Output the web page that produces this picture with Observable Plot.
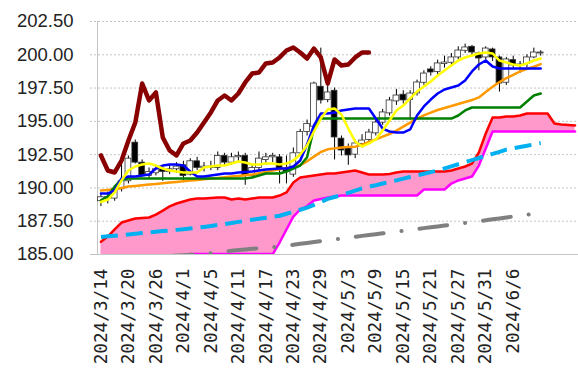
<!DOCTYPE html>
<html><head><meta charset="utf-8">
<script src="https://cdn.jsdelivr.net/npm/d3@7"></script>
<script src="https://cdn.jsdelivr.net/npm/@observablehq/plot@0.6"></script>
<style>body{margin:0;background:#fff}</style>
</head><body><div id="chart"></div>
<script>
// X tick labels (every 4th trading day)
const xTickLabels = ["2024/3/14","2024/3/20","2024/3/26","2024/4/1","2024/4/5","2024/4/11","2024/4/17","2024/4/23","2024/4/29","2024/5/3","2024/5/9","2024/5/15","2024/5/21","2024/5/27","2024/5/31","2024/6/6"];
const yTicks = [185, 187.5, 190, 192.5, 195, 197.5, 200, 202.5];
const nCategories = 70;

// Candles
const open = [189.0,189.3,189.2,189.9,190.5,193.4,191.9,190.9,191.1,191.4,
191.2,191.4,191.7,191.0,192.0,191.5,191.6,191.5,192.4,191.9,
192.3,192.4,190.9,191.5,192.1,192.3,192.3,191.4,191.0,192.6,
194.2,194.6,197.6,196.6,197.3,193.7,193.0,192.5,193.3,193.6,
194.1,194.9,195.6,196.5,197.0,196.6,197.1,197.9,198.9,198.7,
199.3,199.4,199.8,200.3,200.6,200.1,199.8,200.4,199.8,197.9,
199.6,199.2,199.3,199.8,200.1];
const high = [189.6,189.7,190.1,192.0,192.4,193.6,192.1,191.5,191.7,191.6,
191.7,191.9,192.0,192.2,192.3,191.9,192.0,192.7,192.6,192.6,
192.7,192.6,191.7,192.7,192.6,192.6,192.5,192.4,193.0,194.4,
195.1,197.95,200.5,197.8,197.5,193.9,193.3,193.6,194.0,194.4,
195.1,195.9,196.8,197.4,197.3,197.3,198.1,198.8,199.1,199.6,
199.9,200.1,200.6,200.8,200.7,200.2,200.6,200.5,199.9,199.8,
199.9,199.5,200.0,200.5,200.3];
const low = [188.6,188.8,189.0,189.7,190.3,191.8,190.8,190.7,190.9,190.5,
191.0,191.1,190.4,190.9,191.3,191.2,191.3,191.3,191.7,191.7,
191.9,190.2,190.8,191.3,191.7,191.9,190.3,190.3,190.8,192.4,
193.9,194.4,196.3,196.4,192.1,192.4,191.7,192.2,193.0,193.3,
193.9,194.7,195.4,196.2,196.3,195.1,196.9,197.7,198.4,198.5,
199.0,199.2,199.6,200.1,199.9,198.8,199.6,199.5,197.2,197.7,
198.9,198.6,199.0,199.7,199.9];
const close = [189.3,189.2,189.9,190.5,192.2,191.9,190.9,191.2,191.4,191.2,
191.4,191.6,190.9,192.0,191.5,191.6,191.5,192.4,191.9,192.3,
192.4,190.9,191.5,192.2,192.3,192.4,191.4,191.2,192.6,194.2,
194.8,197.84,196.57,197.17,193.79,192.81,192.44,193.34,193.56,194.16,
194.91,195.67,196.57,196.94,196.57,197.09,197.92,198.59,198.67,199.35,
199.42,199.80,200.32,200.55,200.17,199.72,200.47,199.80,197.84,199.65,
199.20,199.27,199.80,200.17,200.17];

// Lines
const tenkan = [188.94,189.13,189.66,190.56,191.31,191.61,191.76,191.83,191.68,191.46,
191.31,191.23,191.16,191.16,191.16,191.53,191.61,191.68,191.68,191.83,
191.98,191.91,191.76,191.76,191.83,191.83,191.76,191.83,192.06,192.51,
193.19,194.24,195.21,195.89,195.97,195.52,194.46,193.49,193.11,193.34,
193.64,194.31,195.06,195.82,196.19,196.72,197.24,197.62,197.99,198.44,
198.82,199.20,199.57,199.80,199.95,200.10,200.17,200.10,199.57,199.42,
199.27,199.20,199.35,199.57,199.72];
const kijun = [189.58,189.58,189.81,190.71,190.86,190.86,190.93,191.01,191.46,191.68,
191.76,191.76,191.68,191.23,190.86,190.86,190.93,191.01,191.08,191.08,
191.16,191.20,191.23,191.31,191.38,191.42,191.46,191.46,191.61,192.06,
193.26,194.69,195.59,195.59,195.67,195.82,195.89,195.97,195.97,195.97,
195.21,194.46,194.24,194.16,194.16,194.39,195.44,196.12,196.64,197.09,
197.39,197.54,197.69,198.07,198.75,199.27,199.57,199.12,198.97,198.97,
198.97,198.97,198.97,198.97,198.97];
const greenLine = [189.06,189.36,190.11,190.63,190.71,190.71,190.71,190.71,190.71,190.71,
190.71,190.71,190.71,190.71,190.71,190.71,190.71,190.71,190.71,190.71,
190.71,190.71,190.78,190.93,191.08,191.08,191.08,191.23,191.46,191.68,
192.30,194.50,195.21,195.21,195.21,195.21,195.21,195.21,195.21,195.21,
195.21,195.21,195.21,195.21,195.21,195.21,195.21,195.21,195.21,195.21,
195.21,195.21,195.44,195.82,196.04,196.04,196.04,196.04,196.04,196.04,
196.04,196.04,196.49,196.94,197.09];
const orangeLine = [189.80,189.85,189.90,190.00,190.10,190.15,190.20,190.25,190.30,190.35,
190.40,190.45,190.50,190.55,190.60,190.65,190.70,190.75,190.80,190.85,
190.90,190.95,191.00,191.10,191.20,191.30,191.40,191.50,191.60,191.70,
192.00,192.35,192.70,192.90,192.97,193.04,193.08,193.10,193.25,193.45,
193.65,193.85,194.05,194.30,194.60,194.90,195.20,195.45,195.65,195.85,
196.00,196.15,196.30,196.45,196.60,196.80,197.20,197.60,197.95,198.25,
198.50,198.75,198.95,199.10,199.30];
const cyanLine = [186.31,186.37,186.41,186.46,186.51,186.56,186.61,186.66,186.71,186.76,
186.80,186.85,186.90,186.95,187.01,187.07,187.14,187.22,187.29,187.37,
187.45,187.52,187.61,187.68,187.76,187.84,187.91,188.06,188.21,188.36,
188.52,188.73,188.95,189.18,189.32,189.46,189.63,189.80,189.96,190.09,
190.20,190.33,190.45,190.57,190.70,190.82,190.94,191.06,191.19,191.31,
191.47,191.62,191.78,191.94,192.09,192.25,192.40,192.56,192.71,192.88,
192.98,193.08,193.17,193.27,193.37];
const grayLine = [184.30,184.36,184.42,184.48,184.54,184.60,184.66,184.72,184.78,184.83,
184.88,184.92,184.95,184.98,185.01,185.05,185.10,185.15,185.22,185.28,
185.33,185.38,185.43,185.47,185.51,185.55,185.60,185.66,185.73,185.80,
185.87,185.94,186.01,186.08,186.13,186.19,186.26,186.33,186.40,186.46,
186.52,186.59,186.65,186.72,186.78,186.85,186.91,186.98,187.05,187.11,
187.18,187.24,187.31,187.37,187.44,187.50,187.57,187.64,187.71,187.78,
187.85,187.92,187.99,188.06,188.13];
const senkouA = [185.95,186.35,186.88,187.40,187.55,187.70,187.74,187.78,188.00,188.30,
188.61,188.83,188.98,189.13,189.21,189.21,189.24,189.28,189.28,189.13,
189.21,189.13,189.21,189.28,189.28,189.28,189.43,189.66,190.41,190.78,
190.86,190.93,191.01,191.08,191.08,191.16,191.23,191.31,191.16,191.01,
191.01,191.01,191.05,191.16,191.23,191.23,191.23,191.23,191.23,191.23,
191.23,191.31,191.46,191.61,191.83,192.66,194.09,195.29,195.29,195.37,
195.37,195.44,195.59,195.59,195.59,195.59,194.84,194.76,194.73,194.69];
const senkouB = [184.60,184.60,184.60,184.60,184.60,184.60,184.60,184.60,184.60,184.60,
184.60,184.60,184.95,185.03,185.03,185.03,185.03,185.03,185.03,185.03,
185.03,185.03,185.03,185.03,185.03,185.03,185.90,186.88,187.85,188.38,
188.64,189.06,189.17,189.28,189.36,189.43,189.43,189.43,189.43,189.43,
189.43,189.43,189.43,189.43,189.43,189.43,189.43,189.88,189.88,189.88,
189.88,190.33,190.56,190.71,190.86,191.68,192.96,194.24,194.24,194.24,
194.24,194.24,194.24,194.24,194.24,194.24,194.24,194.24,194.24,194.24];
const chikou = [192.44,191.31,191.16,192.06,193.56,194.91,197.84,196.57,197.17,193.79,
192.81,192.44,193.34,193.56,194.16,194.91,195.67,196.57,196.94,196.57,
197.09,197.92,198.59,198.67,199.35,199.42,199.80,200.32,200.55,200.17,
199.72,200.47,199.80,197.84,199.65,199.20,199.27,199.80,200.17,200.17];

const candles = close.map((c, i) => ({i, o: open[i], h: high[i], l: low[i], c}));
const series = arr => arr.map((v, i) => ({i, v}));
const cloud = senkouA.map((a, i) => ({i, a, b: senkouB[i]}));
const xTicks = xTickLabels.map((label, k) => ({i: k * 4, label}));

const lineOpts = (stroke, w, extra = {}) => ({x: "i", y: "v", stroke, strokeWidth: w, clip: true, ...extra});

const chart = Plot.plot({
  width: 578, height: 374,
  marginLeft: 97, marginRight: 0, marginTop: 21, marginBottom: 120,
  x: {domain: [-0.5, nCategories - 0.5], axis: null},
  y: {domain: [185, 202.5], axis: null},
  style: {background: "white", overflow: "visible"},
  marks: [
    Plot.ruleY(yTicks.slice(1), {stroke: "#c4c4c4", strokeDasharray: "2,2", insetLeft: -7}),
    Plot.areaY(cloud, {x: "i", y1: "b", y2: "a", fill: "#FF99CC", clip: true}),
    Plot.lineY(series(senkouB), lineOpts("#FF00FF", 2.5)),
    Plot.lineY(series(senkouA), lineOpts("#FF0000", 2.5)),
    Plot.lineY(series(cyanLine), lineOpts("#00B0F0", 4, {strokeDasharray: "17,8", strokeLinecap: "butt"})),
    Plot.lineY(series(grayLine), lineOpts("#808080", 4, {strokeDasharray: "28,18,0.1,18", strokeLinecap: "round"})),
    Plot.ruleY([185], {stroke: "#c4c4c4", insetLeft: -7}),
    Plot.frame({anchor: "left", stroke: "#c4c4c4"}),
    Plot.ruleX(candles, {x: "i", y1: "l", y2: "h", stroke: "#000", strokeWidth: 1}),
    Plot.rect(candles, {x1: d => d.i - 0.42, x2: d => d.i + 0.42, y1: "o", y2: "c",
      fill: d => d.c >= d.o ? "#fff" : "#000", stroke: "#333", strokeWidth: 0.8}),
    Plot.lineY(series(orangeLine), lineOpts("#FF9900", 2.5)),
    Plot.lineY(series(greenLine), lineOpts("#008000", 2.5)),
    Plot.lineY(series(kijun), lineOpts("#0000FF", 2.5)),
    Plot.lineY(series(tenkan), lineOpts("#FFFF00", 2.5)),
    Plot.lineY(series(chikou), lineOpts("#880000", 4.5)),
    Plot.text(yTicks, {y: d => d, text: d => d.toFixed(2), frameAnchor: "left", dx: -24,
      textAnchor: "end", fontSize: 18.5, fontFamily: "Liberation Sans, Arial, sans-serif", fill: "#222"}),
    Plot.text(xTicks, {x: "i", text: "label", frameAnchor: "bottom", dy: 14, rotate: -90,
      textAnchor: "end", lineAnchor: "middle", fontSize: 17.7, fontFamily: "DejaVu Sans Mono, monospace", fill: "#222"})
  ]
});
document.getElementById("chart").appendChild(chart);
</script>
</body></html>
